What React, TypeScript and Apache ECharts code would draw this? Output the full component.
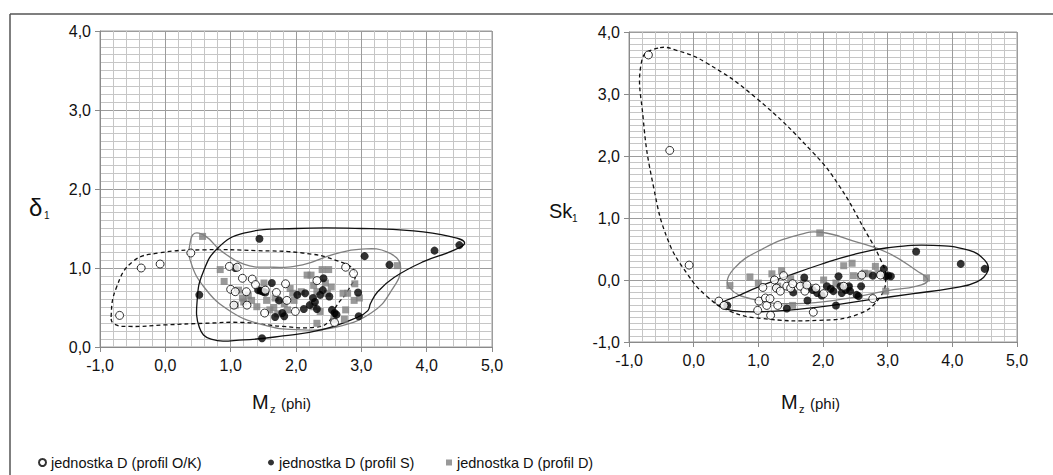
import React, { useEffect, useRef } from "react";
import * as echarts from "echarts";

// ---- data ----
const legendNames = ["jednostka D (profil O/K)", "jednostka D (profil S)", "jednostka D (profil D)"];

// left plot: Mz vs sorting (δ1)
const leftOK: number[][] = [
  [-0.70, 0.40], [-0.37, 1.00], [-0.08, 1.05], [0.39, 1.19], [0.98, 1.02], [1.10, 1.01],
  [1.00, 0.73], [1.07, 0.70], [1.05, 0.53], [1.18, 0.87], [1.25, 0.53], [1.24, 0.70],
  [1.33, 0.86], [1.38, 0.79], [1.52, 0.43], [1.53, 0.72], [1.70, 0.69], [1.84, 0.80],
  [1.86, 0.59], [1.99, 0.45], [2.32, 0.84], [2.59, 0.31], [2.76, 1.01], [2.88, 0.93],
];
const leftS: number[][] = [
  [0.52, 0.66], [1.07, 1.00], [1.44, 1.37], [1.48, 0.11], [1.42, 0.72], [1.46, 0.71],
  [1.50, 0.70], [1.53, 0.69], [1.63, 0.81], [1.74, 0.59], [1.68, 0.38], [1.82, 0.39],
  [1.79, 0.43], [2.12, 0.48], [2.14, 0.68], [2.26, 0.62], [2.29, 0.57], [2.32, 0.48],
  [2.42, 0.87], [2.41, 0.72], [2.37, 0.66], [2.51, 0.64], [2.55, 0.47], [2.59, 0.43],
  [2.62, 0.41], [2.95, 0.69], [2.96, 0.39], [3.05, 1.15], [3.43, 1.04], [4.12, 1.22],
  [4.50, 1.29], [2.02, 0.66], [2.21, 0.53],
];
const leftD: number[][] = [
  [0.57, 1.40], [0.84, 0.98], [0.90, 0.83], [1.12, 0.72], [1.18, 0.62], [1.20, 0.57],
  [1.27, 0.65], [1.32, 0.59], [1.40, 0.51], [1.51, 0.81], [1.55, 0.59], [1.60, 0.47],
  [1.66, 0.50], [1.68, 0.62], [1.82, 0.55], [1.87, 0.47], [1.91, 0.74], [1.95, 0.68],
  [1.97, 0.59], [2.08, 0.70], [2.17, 0.91], [2.23, 0.91], [2.27, 0.78], [2.27, 0.51],
  [2.32, 0.70], [2.32, 0.30], [2.37, 0.45], [2.40, 0.98], [2.45, 0.81], [2.48, 0.68],
  [2.50, 0.98], [2.54, 0.76], [2.58, 0.35], [2.72, 0.68], [2.74, 0.35], [2.76, 0.47],
  [2.79, 0.68], [2.89, 0.59], [2.90, 0.80], [2.97, 0.62], [3.55, 1.03], [1.07, 0.53],
  [1.72, 0.42],
];
// right plot: Mz vs skewness (Sk1)
const rightOK: number[][] = [
  [-0.70, 3.63], [-0.37, 2.09], [-0.07, 0.24], [0.39, -0.34], [0.47, -0.41], [0.99, -0.49],
  [1.01, -0.34], [1.07, -0.12], [1.11, -0.29], [1.13, -0.41], [1.19, -0.57], [1.18, -0.30],
  [1.25, 0.00], [1.28, -0.13], [1.30, -0.41], [1.34, -0.18], [1.39, 0.07], [1.44, -0.10],
  [1.50, -0.13], [1.53, -0.06], [1.65, -0.10], [1.72, -0.18], [1.75, -0.08], [1.85, -0.52],
  [1.89, -0.13], [2.01, -0.22], [2.32, -0.10], [2.60, 0.08], [2.77, -0.30], [2.89, 0.08],
];
const rightS: number[][] = [
  [0.52, -0.41], [1.44, -0.46], [1.54, -0.20], [1.71, 0.04], [1.76, -0.33], [1.84, -0.16],
  [1.91, -0.21], [1.98, -0.25], [2.06, -0.10], [2.16, -0.18], [2.20, -0.41], [2.24, 0.06],
  [2.27, -0.10], [2.29, -0.21], [2.40, -0.10], [2.42, -0.18], [2.52, -0.24], [2.55, -0.26],
  [2.59, -0.10], [2.77, 0.07], [2.94, 0.18], [2.97, 0.06], [3.01, 0.07], [3.05, 0.06],
  [3.44, 0.46], [4.13, 0.26], [4.50, 0.18], [2.12, -0.14], [2.35, -0.16],
];
const rightD: number[][] = [
  [0.56, -0.09], [0.87, 0.05], [1.00, -0.05], [1.21, 0.10], [1.36, 0.15], [1.53, -0.41],
  [1.95, 0.76], [2.01, 0.00], [2.32, 0.23], [2.45, 0.27], [2.47, 0.07], [2.58, 0.06],
  [2.64, 0.11], [2.81, 0.22], [2.86, 0.11], [2.97, -0.18], [3.60, 0.03], [1.70, -0.05],
  [1.80, -0.12], [2.20, -0.05], [2.40, -0.12], [1.50, 0.02], [2.70, 0.10], [1.30, -0.10],
];

// envelopes (closed curves through these points)
const leftEnvOK: number[][] = [
  [-0.83, 0.38], [-0.75, 0.75], [-0.50, 1.08], [-0.10, 1.19], [0.60, 1.23], [1.40, 1.22],
  [2.10, 1.19], [2.60, 1.10], [2.90, 0.95], [2.80, 0.72], [2.62, 0.52], [2.50, 0.32],
  [2.30, 0.25], [1.80, 0.26], [1.20, 0.31], [0.60, 0.30], [0.00, 0.28], [-0.55, 0.26],
  [-0.78, 0.29],
];
const leftEnvS: number[][] = [
  [0.49, 0.62], [0.58, 0.95], [0.80, 1.25], [1.20, 1.44], [2.00, 1.50], [3.00, 1.50],
  [3.80, 1.47], [4.35, 1.40], [4.58, 1.32], [4.40, 1.22], [3.95, 1.08], [3.50, 0.88],
  [3.25, 0.70], [3.14, 0.55], [3.10, 0.46], [2.95, 0.38], [2.40, 0.22], [1.80, 0.14],
  [1.20, 0.09], [0.70, 0.10], [0.52, 0.25],
];
const leftEnvD: number[][] = [
  [0.45, 1.44], [0.62, 1.40], [0.85, 1.22], [1.20, 1.05], [1.60, 1.01], [2.10, 1.04],
  [2.60, 1.18], [3.00, 1.24], [3.40, 1.20], [3.60, 1.02], [3.45, 0.70], [3.15, 0.43],
  [2.60, 0.25], [2.00, 0.22], [1.50, 0.28], [1.00, 0.45], [0.60, 0.75], [0.38, 1.10],
  [0.38, 1.32],
];
const rightEnvOK: number[][] = [
  [-0.55, 3.74], [-0.80, 3.55], [-0.78, 2.60], [-0.62, 1.50], [-0.40, 0.65], [-0.10, 0.10],
  [0.20, -0.26], [0.55, -0.50], [1.05, -0.62], [1.95, -0.65], [2.55, -0.55], [2.88, -0.28],
  [2.97, 0.05], [2.88, 0.35], [2.65, 0.80], [2.25, 1.52], [1.85, 2.05], [0.95, 2.95],
  [0.20, 3.50], [-0.25, 3.70],
];
const rightEnvS: number[][] = [
  [0.40, -0.40], [0.70, -0.25], [1.03, -0.10], [1.44, 0.06], [1.96, 0.25], [2.47, 0.41],
  [3.00, 0.52], [3.70, 0.56], [4.25, 0.48], [4.50, 0.32], [4.55, 0.15], [4.38, -0.03],
  [4.00, -0.13], [3.40, -0.22], [2.70, -0.32], [1.90, -0.44], [1.10, -0.51], [0.60, -0.49],
];
const rightEnvD: number[][] = [
  [1.96, 0.77], [2.50, 0.62], [3.00, 0.44], [3.45, 0.15], [3.62, 0.00], [3.45, -0.10],
  [3.00, -0.17], [2.30, -0.31], [1.60, -0.38], [1.00, -0.33], [0.55, -0.12], [0.62, 0.18],
  [1.10, 0.52], [1.60, 0.72],
];

const FONT = "'Liberation Sans', Arial, Helvetica, sans-serif";
const fmt = (v: number) => v.toFixed(1).replace(".", ",");

function envelope(name: string, pts: number[][], idx: number, color: string, dashed: boolean) {
  return {
    type: "custom",
    name,
    xAxisIndex: idx,
    yAxisIndex: idx,
    silent: true,
    z: 1,
    clip: false,
    data: [pts[0]],
    renderItem: (_params: any, api: any) => {
      const points = pts.map((p) => api.coord(p));
      return {
        type: "polygon",
        shape: { points, smooth: 0.45 },
        style: {
          fill: "none",
          stroke: color,
          lineWidth: 1.3,
          lineDash: dashed ? [4, 3] : null,
        },
      };
    },
  };
}

function scatterSet(idx: number, ok: number[][], s: number[][], d: number[][]) {
  return [
    {
      type: "scatter", name: legendNames[2], xAxisIndex: idx, yAxisIndex: idx, z: 3,
      symbol: "rect", symbolSize: 7, data: d, itemStyle: { color: "#7f7f7f" },
    },
    {
      type: "scatter", name: legendNames[1], xAxisIndex: idx, yAxisIndex: idx, z: 4,
      symbol: "circle", symbolSize: 8, data: s, itemStyle: { color: "#000" },
    },
    {
      type: "scatter", name: legendNames[0], xAxisIndex: idx, yAxisIndex: idx, z: 5,
      symbol: "circle", symbolSize: 8, data: ok,
      itemStyle: { color: "#fff", borderColor: "#000", borderWidth: 1 },
    },
  ];
}

function xAxis(grid: number) {
  return {
    gridIndex: grid, type: "value", min: -1, max: 5, interval: 1,
    axisLine: { show: true, onZero: false, lineStyle: { color: "#8a8a8a", width: 1 } },
    axisTick: { show: true, length: 5, lineStyle: { color: "#8a8a8a" } },
    axisLabel: { formatter: fmt, fontSize: 16, color: "#111", fontFamily: FONT, margin: 10 },
    splitLine: { show: true, lineStyle: { color: "#9c9c9c", width: 1 } },
    minorTick: { show: false, splitNumber: 5 },
    minorSplitLine: { show: true, lineStyle: { color: "#c6c6c6", width: 1 } },
  };
}
function yAxis(grid: number, min: number, max: number) {
  return {
    gridIndex: grid, type: "value", min, max, interval: 1,
    axisLine: { show: true, onZero: false, lineStyle: { color: "#8a8a8a", width: 1 } },
    axisTick: { show: true, length: 5, lineStyle: { color: "#8a8a8a" } },
    axisLabel: { formatter: fmt, fontSize: 16, color: "#111", fontFamily: FONT, margin: 9 },
    splitLine: { show: true, lineStyle: { color: "#9c9c9c", width: 1 } },
    minorTick: { show: false, splitNumber: 10 },
    minorSplitLine: { show: true, lineStyle: { color: "#c6c6c6", width: 1 } },
  };
}

function txt(x: number, y: number, text: string, size: number) {
  return {
    type: "text", x, y, silent: true,
    style: { text, fontSize: size, fontFamily: FONT, fill: "#111", verticalAlign: "middle", align: "left" },
  };
}

export default function App() {
  const ref = useRef<HTMLDivElement>(null);
  useEffect(() => {
    if (!ref.current) return;
    const chart = echarts.init(ref.current, null, { renderer: "svg" });
    const legendBase = {
      itemGap: 0, orient: "horizontal", selectedMode: false,
      textStyle: { fontSize: 14.5, fontFamily: FONT, color: "#111" },
    };
    chart.setOption({
      animation: false,
      backgroundColor: "#fff",
      grid: [
        { left: 100, top: 31, width: 392, height: 316, show: true, borderColor: "#9c9c9c", borderWidth: 1 },
        { left: 629, top: 32, width: 388, height: 310, show: true, borderColor: "#9c9c9c", borderWidth: 1 },
      ],
      xAxis: [xAxis(0), xAxis(1)],
      yAxis: [yAxis(0, 0, 4), yAxis(1, -1, 4)],
      legend: [
        { ...legendBase, data: [{ name: legendNames[0], icon: "circle" }], left: 33, top: 450, itemWidth: 7, itemHeight: 7 },
        { ...legendBase, data: [{ name: legendNames[1], icon: "circle" }], left: 263, top: 450, itemWidth: 6, itemHeight: 6 },
        { ...legendBase, data: [{ name: legendNames[2], icon: "rect" }], left: 441, top: 450, itemWidth: 6, itemHeight: 6 },
      ],
      graphic: [
        { type: "line", silent: true, shape: { x1: 10, y1: 14, x2: 1053, y2: 14 }, style: { stroke: "#555", lineWidth: 1.5 } },
        { type: "line", silent: true, shape: { x1: 10, y1: 14, x2: 10, y2: 475 }, style: { stroke: "#555", lineWidth: 1.5 } },
        txt(29, 207, "δ", 24),
        txt(44, 215, "1", 10),
        txt(549, 211, "Sk", 20),
        txt(572, 218, "1", 10),
        txt(252, 402, "M", 20),
        txt(270, 409, "z", 11),
        txt(281, 403, "(phi)", 15),
        txt(781, 402, "M", 20),
        txt(799, 409, "z", 11),
        txt(810, 403, "(phi)", 15),
      ],
      series: [
        envelope("obwiednia O/K L", leftEnvOK, 0, "#111", true),
        envelope("obwiednia D L", leftEnvD, 0, "#808080", false),
        envelope("obwiednia S L", leftEnvS, 0, "#111", false),
        envelope("obwiednia O/K R", rightEnvOK, 1, "#111", true),
        envelope("obwiednia D R", rightEnvD, 1, "#808080", false),
        envelope("obwiednia S R", rightEnvS, 1, "#111", false),
        ...scatterSet(0, leftOK, leftS, leftD),
        ...scatterSet(1, rightOK, rightS, rightD),
      ],
    });
    return () => chart.dispose();
  }, []);
  return (
    <div
      ref={ref}
      style={{ position: "fixed", left: 0, top: 0, width: 1053, height: 475, background: "#fff" }}
    />
  );
}
